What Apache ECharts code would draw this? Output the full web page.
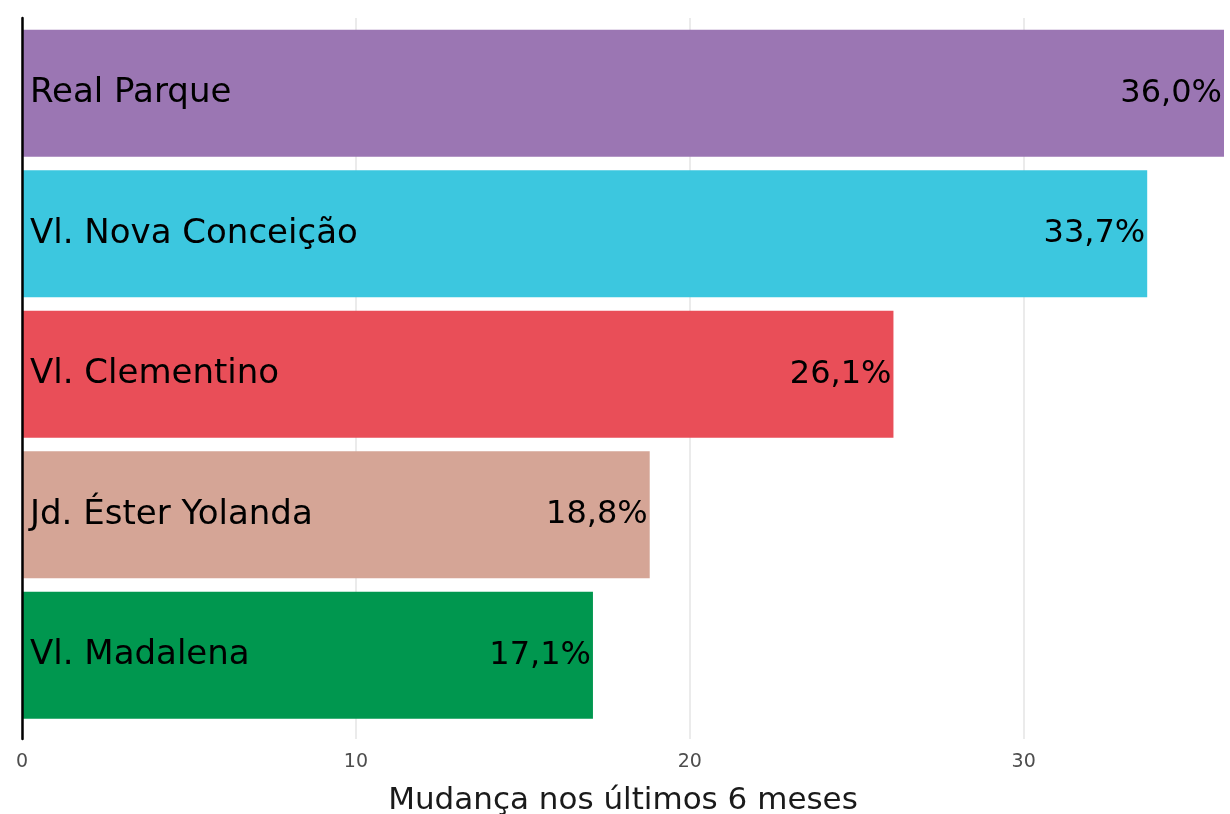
<!DOCTYPE html>
<html>
<head>
<meta charset="utf-8">
<script src="https://cdn.jsdelivr.net/npm/echarts@6/dist/echarts.min.js"></script>
<style>
  html, body { margin: 0; padding: 0; background: #fff; }
  #chart { width: 1230px; height: 814px; }
</style>
</head>
<body>
<div id="chart"></div>
<script>
// bairros, de baixo para cima (ordem do eixo de categorias)
const bairros = ['Vl. Madalena', 'Jd. Éster Yolanda', 'Vl. Clementino', 'Vl. Nova Conceição', 'Real Parque']
const mudanca = [17.1, 18.8, 26.1, 33.7, 36.0]
const cores = ['#00974f', '#d5a596', '#e94e58', '#3cc7df', '#9b76b3']
const xTicks = [0, 10, 20, 30]

const FONT = 'DejaVu Sans'

let myChart = echarts.init(document.getElementById('chart'))
let option = {
  backgroundColor: '#ffffff',
  animation: false,
  grid: [
    // barras
    { left: 22, right: 6, top: 23, height: 702.5, outerBoundsMode: 'none' },
    // linhas de grade / eixo
    { left: 22, right: 6, top: 18, bottom: 75, outerBoundsMode: 'none' }
  ],
  xAxis: [
    {
      gridIndex: 0,
      type: 'value',
      min: 0,
      max: 36,
      show: false
    },
    {
      gridIndex: 1,
      type: 'value',
      min: 0,
      max: 36,
      interval: 10,
      axisLine: { show: false },
      axisTick: { show: false },
      splitLine: { show: true, showMaxLine: false, lineStyle: { color: '#ebebeb', width: 2 } },
      axisLabel: {
        color: '#4d4d4d',
        fontFamily: FONT,
        fontSize: 19,
        margin: 14,
        showMaxLabel: false,
        formatter: v => (xTicks.indexOf(v) >= 0 ? String(v) : '')
      },
      name: 'Mudança nos últimos 6 meses',
      nameLocation: 'middle',
      nameGap: 46,
      nameTextStyle: { color: '#1a1a1a', fontFamily: FONT, fontSize: 31 }
    }
  ],
  yAxis: [
    {
      gridIndex: 0,
      type: 'category',
      data: bairros,
      z: 5,
      axisLine: { show: false },
      axisTick: { show: false },
      splitLine: { show: false },
      axisLabel: {
        inside: true,
        margin: 8,
        color: '#000',
        fontFamily: FONT,
        fontSize: 34
      }
    },
    {
      gridIndex: 1,
      type: 'value',
      min: 0,
      max: 1,
      z: 10,
      axisLine: { show: true, lineStyle: { color: '#000', width: 2.5 } },
      axisTick: { show: false },
      axisLabel: { show: false },
      splitLine: { show: false }
    }
  ],
  series: [{
    type: 'bar',
    xAxisIndex: 0,
    yAxisIndex: 0,
    barWidth: 127,
    data: mudanca.map((v, i) => ({ value: v, itemStyle: { color: cores[i] } })),
    label: {
      show: true,
      position: 'insideRight',
      distance: 2,
      color: '#000',
      fontFamily: FONT,
      fontSize: 32,
      formatter: p => p.value.toFixed(1).replace('.', ',') + '%'
    }
  }]
}
myChart.setOption(option)
</script>
</body>
</html>
